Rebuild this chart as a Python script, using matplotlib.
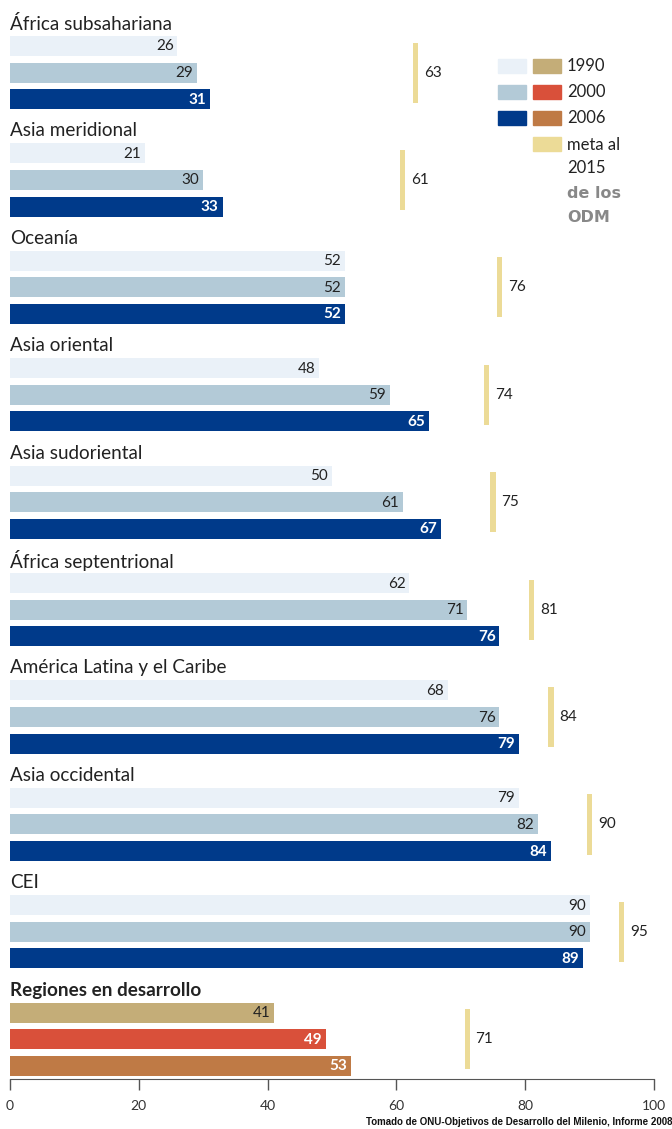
import matplotlib
matplotlib.use("Agg")
import matplotlib.pyplot as plt
from matplotlib.patches import Rectangle

plt.rcParams['font.family'] = ['Lato', 'DejaVu Sans']

# data
regions = ["África subsahariana", "Asia meridional", "Oceanía", "Asia oriental",
           "Asia sudoriental", "África septentrional", "América Latina y el Caribe",
           "Asia occidental", "CEI", "Regiones en desarrollo"]
v1990 = [26, 21, 52, 48, 50, 62, 68, 79, 90, 41]
v2000 = [29, 30, 52, 59, 61, 71, 76, 82, 90, 49]
v2006 = [31, 33, 52, 65, 67, 76, 79, 84, 89, 53]
meta = [63, 61, 76, 74, 75, 81, 84, 90, 95, 71]
years = ["1990", "2000", "2006"]
xticks = [0, 20, 40, 60, 80, 100]
source = "Tomado de ONU-Objetivos de Desarrollo del Milenio, Informe 2008"

blues = ["#eaf1f8", "#b3cad7", "#003a8a"]
warm = ["#c4ad78", "#d9503a", "#bf7a45"]
meta_col = "#ecdb97"
txt = "#222222"

W, H = 672, 1129
fig = plt.figure(figsize=(W / 100, H / 100), dpi=100)
ax_bottom = 1079
ax = fig.add_axes([10 / W, (H - ax_bottom) / H, 644 / W, ax_bottom / H])
ax.set_xlim(0, 100)
ax.set_ylim(ax_bottom, 0)

group_step = 107.4
bar_step = 26.6
bar_h = 20
first_bar = 46

for g, name in enumerate(regions):
    base = first_bar + g * group_step
    last = g == len(regions) - 1
    cols = warm if last else blues
    vals = [v1990[g], v2000[g], v2006[g]]
    for k, v in enumerate(vals):
        yc = base + k * bar_step
        ax.barh(yc, v, height=bar_h, color=cols[k], left=0)
        dark = (k == 2) or (last and k >= 1)
        ax.text(v - 0.6, yc + 0.5, str(v), ha='right', va='center', fontsize=11,
                color='white' if dark else txt, fontweight='bold' if dark else 'normal')
    ax.text(0, base - 22.5, name, ha='left', va='center', fontsize=13.6, color=txt,
            fontweight='bold' if last else 'normal', clip_on=False)
    # goal marker
    ax.bar(meta[g], 2 * bar_step + 7, width=0.8, bottom=base - 3.5, color=meta_col)
    ax.text(meta[g] + 1.3, base + bar_step, str(meta[g]), ha='left', va='center',
            fontsize=11, color=txt)

for s in ['top', 'right', 'left']:
    ax.spines[s].set_visible(False)
ax.spines['bottom'].set_color('#555555')
ax.set_yticks([])
ax.set_xticks(xticks)
ax.tick_params(axis='x', direction='out', length=8, width=1, color='#555555',
               labelsize=10, labelcolor='#333333', pad=7)

# legend in pixel coordinates
def fx(x):
    return x / W

def fy(y):
    return 1 - y / H

leg_y = [66, 92, 118]
for i, yr in enumerate(years):
    fig.add_artist(Rectangle((fx(498), fy(leg_y[i] + 7)), 28 / W, 14 / H,
                             color=blues[i], transform=fig.transFigure))
    fig.add_artist(Rectangle((fx(533), fy(leg_y[i] + 7)), 28 / W, 14 / H,
                             color=warm[i], transform=fig.transFigure))
    fig.text(fx(567), fy(leg_y[i]), yr, ha='left', va='center', fontsize=12, color=txt)
fig.add_artist(Rectangle((fx(533), fy(144 + 7)), 28 / W, 14 / H,
                         color=meta_col, transform=fig.transFigure))
fig.text(fx(567), fy(145), "meta al", ha='left', va='center', fontsize=12, color=txt)
fig.text(fx(567), fy(168), "2015", ha='left', va='center', fontsize=12, color=txt)
fig.text(fx(567), fy(193), "de los", ha='left', va='center', fontsize=11.5,
         color='#888888', fontweight='bold', family=['DejaVu Sans'])
fig.text(fx(567), fy(217), "ODM", ha='left', va='center', fontsize=11.5,
         color='#888888', fontweight='bold', family=['DejaVu Sans'])

fig.text(fx(672), fy(1122), source, ha='right', va='center', fontsize=7,
         fontweight='bold', color='#111111',
         family=['Liberation Sans Narrow', 'Liberation Sans', 'DejaVu Sans'])

fig.savefig("out.png", dpi=100)
